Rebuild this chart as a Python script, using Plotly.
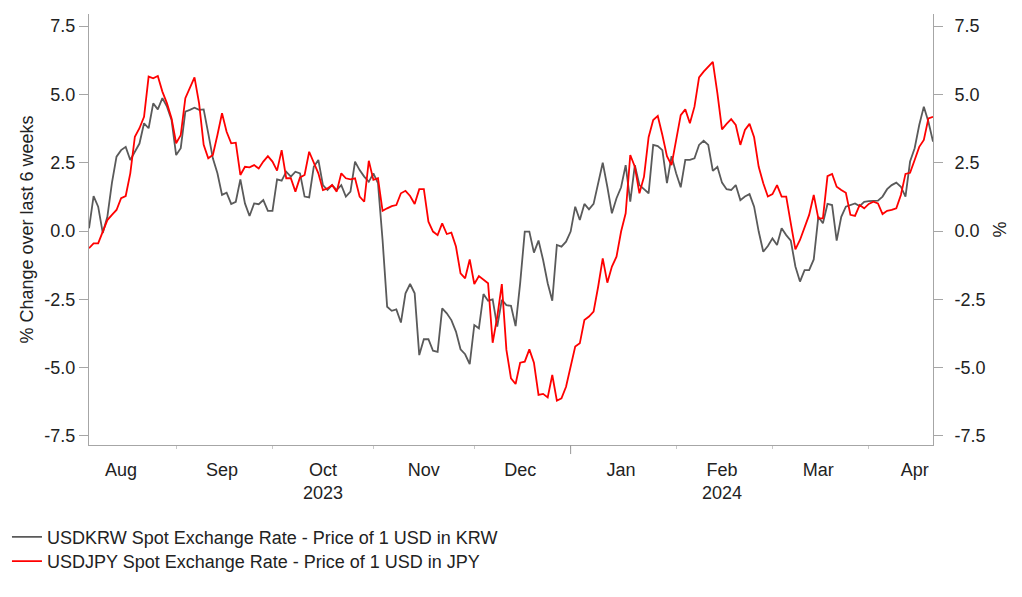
import pandas as pd
import plotly.graph_objects as go

# Business-day dates of the series
dates = pd.bdate_range("2023-08-07", "2024-04-19")

# % change over last 6 weeks, USDKRW
krw = [
    0.1, 1.28, 0.89, -0.07, 0.52, 1.76, 2.72, 2.96, 3.08, 2.6,
    2.9, 3.2, 3.94, 3.76, 4.67, 4.45, 4.86, 4.55, 4.06, 2.78,
    3.03, 4.37, 4.43, 4.51, 4.43, 4.45, 3.57, 2.66, 2.11, 1.32,
    1.4, 0.99, 1.07, 1.89, 1.01, 0.55, 1.01, 0.98, 1.13, 0.74,
    0.74, 1.89, 1.84, 2.17, 1.99, 2.17, 2.11, 1.26, 1.23, 2.35,
    2.6, 1.68, 1.5, 1.68, 1.5, 1.68, 1.26, 1.44, 2.54, 2.23,
    1.99, 1.8, 2.11, 1.75, -0.33, -2.77, -2.92, -2.87, -3.35, -2.28,
    -1.94, -2.28, -4.54, -3.96, -3.96, -4.38, -4.42, -2.83, -3.01, -3.26,
    -3.68, -4.33, -4.51, -4.87, -3.44, -3.56, -2.31, -2.55, -2.5, -3.5,
    -2.52, -2.71, -2.74, -3.48, -1.91, -0.02, -0.02, -0.79, -0.35, -1.06,
    -1.91, -2.55, -0.51, -0.57, -0.39, -0.02, 0.89, 0.4, 0.99, 0.79,
    0.99, 1.75, 2.5, 1.62, 0.65, 1.2, 1.6, 2.41, 1.07, 2.41,
    1.68, 1.53, 1.38, 3.15, 3.11, 2.96, 1.75, 2.74, 2.11, 1.6,
    2.6, 2.6, 2.66, 3.15, 3.3, 3.15, 2.2, 2.35, 1.77, 1.53,
    1.5, 1.68, 1.13, 1.26, 1.35, 0.89, -0.02, -0.76, -0.55, -0.27,
    -0.51, 0.1, -0.15, -0.35, -1.3, -1.85, -1.43, -1.43, -1.04, 0.52,
    0.28, 0.99, 0.95, -0.35, 0.52, 0.89, 0.95, 1.01, 0.91, 1.07,
    1.09, 1.11, 1.11, 1.26, 1.53, 1.68, 1.77, 1.62, 1.26, 2.54,
    3.03, 3.88, 4.55, 4.0, 3.27,
]

# % change over last 6 weeks, USDJPY
jpy = [
    -0.63, -0.45, -0.45, -0.02, 0.4, 0.59, 0.77, 1.2, 1.28, 2.11,
    3.45, 3.76, 4.18, 5.65, 5.59, 5.67, 5.1, 4.67, 4.12, 3.21,
    3.51, 4.86, 5.22, 5.62, 4.67, 3.15, 2.66, 2.78, 3.51, 4.31,
    3.63, 3.21, 3.23, 2.05, 2.35, 2.33, 2.41, 2.29, 2.54, 2.74,
    2.54, 2.21, 2.96, 1.93, 1.93, 1.44, 1.96, 2.05, 2.9, 2.48,
    2.11, 1.5, 1.56, 1.68, 1.44, 2.11, 1.93, 1.89, 1.93, 1.26,
    1.07, 2.57, 1.87, 1.93, 0.74, 0.83, 0.91, 0.95, 1.38, 1.47,
    1.28, 0.99, 1.53, 1.53, 0.34, -0.02, -0.15, 0.28, -0.11, -0.06,
    -0.57, -1.55, -1.73, -1.04, -1.94, -1.65, -1.77, -1.91, -4.09, -3.14,
    -1.94, -4.35, -5.39, -5.6, -4.82, -4.78, -4.33, -4.82, -6.0, -5.96,
    -6.09, -5.27, -6.21, -6.12, -5.7, -4.96, -4.23, -4.11, -3.26, -3.13,
    -2.95, -2.04, -1.0, -1.89, -1.3, -0.94, -0.02, 0.65, 2.78, 2.35,
    1.38, 1.99, 3.43, 4.06, 4.21, 3.51, 2.74, 2.41, 3.33, 4.24,
    4.45, 3.94, 4.55, 5.62, 5.83, 6.01, 6.19, 5.04, 3.72, 3.92,
    4.09, 3.88, 3.15, 3.7, 3.92, 3.43, 2.35, 1.75, 1.26, 1.35,
    1.68, 1.26, 1.26, 0.28, -0.67, -0.33, 0.1, 0.59, 1.32, 0.46,
    0.46, 2.01, 2.09, 1.62, 1.5, 1.4, 0.59, 0.55, 0.95, 0.83,
    0.99, 1.07, 1.01, 0.62, 0.74, 0.77, 0.83, 1.32, 2.09, 2.13,
    2.6, 3.08, 3.33, 4.12, 4.18,
]

series_names = [
    "USDKRW Spot Exchange Rate - Price of 1 USD in KRW",
    "USDJPY Spot Exchange Rate - Price of 1 USD in JPY",
]

# Axis labels
month_label_dates = ["2023-08-16", "2023-09-15", "2023-10-17", "2023-11-16", "2023-12-15",
                     "2024-01-16", "2024-02-15", "2024-03-15", "2024-04-15"]
month_labels = ["Aug", "Sep", "Oct<br>2023", "Nov", "Dec", "Jan", "Feb<br>2024", "Mar", "Apr"]
month_starts = ["2023-09-01", "2023-10-02", "2023-11-01", "2023-12-01", "2024-01-01",
                "2024-02-01", "2024-03-01", "2024-04-01"]
year_start = "2024-01-01"
y_ticks = [-7.5, -5.0, -2.5, 0.0, 2.5, 5.0, 7.5]
y_tick_text = ["-7.5", "-5.0", "-2.5", "0.0", "2.5", "5.0", "7.5"]

FONT = "Liberation Sans, Arial, sans-serif"
TXT = "#222222"
AX = "#a6a6a6"

fig = go.Figure()
fig.add_trace(go.Scatter(x=dates, y=krw, name=series_names[0], mode="lines",
                         line=dict(color="#5a5a5a", width=1.8), legend="legend"))
fig.add_trace(go.Scatter(x=dates, y=jpy, name=series_names[1], mode="lines",
                         line=dict(color="#ff0000", width=1.8), legend="legend2", yaxis="y2"))

yr = [-7.83, 7.94]
common_y = dict(range=yr, tickmode="array", tickvals=y_ticks, ticktext=y_tick_text,
                showgrid=False, zeroline=False, automargin=False,
                showline=True, linecolor=AX, linewidth=1, ticks="outside", ticklen=9,
                tickcolor=AX, tickfont=dict(family=FONT, size=18, color=TXT))

fig.update_layout(
    width=1006, height=581,
    margin=dict(l=81, r=81, t=6, b=144, autoexpand=False),
    paper_bgcolor="white", plot_bgcolor="white",
    font=dict(family=FONT, size=18, color=TXT),
    xaxis=dict(
        type="date",
        range=["2023-08-07", "2024-04-19"],
        rangebreaks=[dict(bounds=["sat", "mon"])],
        tickmode="array", tickvals=month_label_dates, ticktext=month_labels,
        ticks="", showgrid=False, zeroline=False, automargin=False,
        showline=True, linecolor=AX, linewidth=1,
        tickfont=dict(family=FONT, size=18, color=TXT),
        ticklabelstandoff=8,
        minor=dict(tickmode="array", tickvals=month_starts, ticks="outside",
                   ticklen=3, tickcolor="#c8c8c8", showgrid=False),
    ),
    yaxis=dict(**common_y, side="left",
               title=dict(text="% Change over last 6 weeks", font=dict(family=FONT, size=18, color=TXT),
                          standoff=6),
               ticklabelstandoff=0),
    yaxis2=dict(**common_y, side="right", overlaying="y",
                title=dict(text="%", font=dict(family=FONT, size=18, color=TXT), standoff=8),
                ticklabelstandoff=8),
    legend=dict(x=-0.0972, y=-0.171, xanchor="left", yanchor="top",
                bgcolor="rgba(0,0,0,0)", font=dict(family=FONT, size=18, color=TXT)),
    legend2=dict(x=-0.0972, y=-0.227, xanchor="left", yanchor="top",
                 bgcolor="rgba(0,0,0,0)", font=dict(family=FONT, size=18, color=TXT)),
    showlegend=True,
)

fig.add_shape(type="line", xref="x", yref="paper", x0=year_start, x1=year_start,
              y0=0, y1=-0.021, line=dict(color="#999999", width=1))

fig.write_html("out.html")
